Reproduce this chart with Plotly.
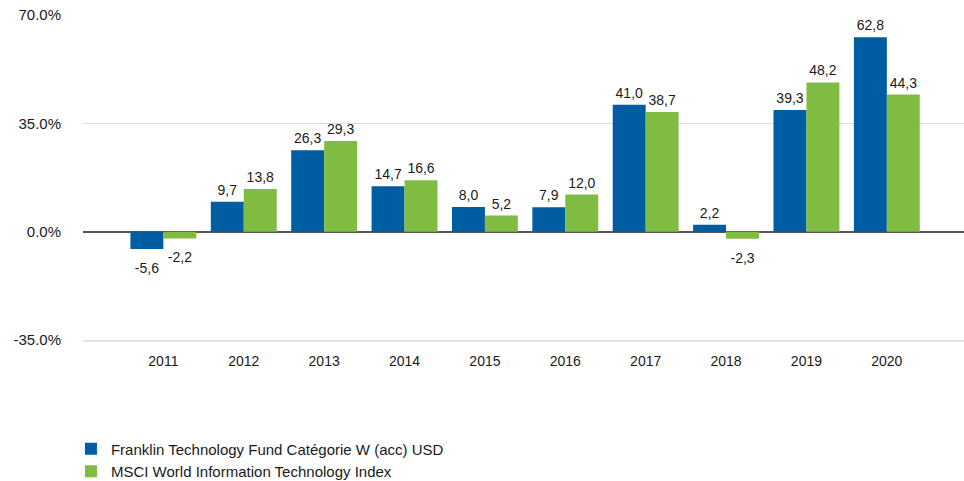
import plotly.graph_objects as go

years = ["2011", "2012", "2013", "2014", "2015", "2016", "2017", "2018", "2019", "2020"]
fund = [-5.6, 9.7, 26.3, 14.7, 8.0, 7.9, 41.0, 2.2, 39.3, 62.8]
index = [-2.2, 13.8, 29.3, 16.6, 5.2, 12.0, 38.7, -2.3, 48.2, 44.3]
fund_name = "Franklin Technology Fund Catégorie W (acc) USD"
index_name = "MSCI World Information Technology Index"
ytick_vals = [-35, 0, 35, 70]

FONT = "Liberation Sans, Arial, sans-serif"
BLUE = "#005DA2"
GREEN = "#80BC41"
TXT = "#1a1a1a"


def fmt(v):
    return f"{v:.1f}".replace(".", ",")


fig = go.Figure()
for name, vals, col in [(fund_name, fund, BLUE), (index_name, index, GREEN)]:
    fig.add_trace(go.Bar(
        x=years, y=vals, name=name, marker=dict(color=col, line=dict(width=0)),
        hoverinfo="x+y",
    ))
for vals in (fund, index):
    fig.add_trace(go.Scatter(
        x=years, y=vals, mode="markers+text",
        marker=dict(size=[4 if v >= 0 else 20 for v in vals],
                    color="rgba(0,0,0,0)", opacity=0, line=dict(width=0)),
        text=[fmt(v) for v in vals],
        textposition=["top center" if v >= 0 else "bottom center" for v in vals],
        textfont=dict(family=FONT, size=14, color=TXT),
        showlegend=False, hoverinfo="skip", cliponaxis=False,
    ))

fig.update_layout(
    width=964, height=481,
    margin=dict(l=83, r=0, t=15, b=141, autoexpand=False),
    paper_bgcolor="white", plot_bgcolor="white",
    barmode="group", bargap=0.18, bargroupgap=0,
    scattermode="group", scattergap=0.18,
    font=dict(family=FONT, size=15, color=TXT),
    showlegend=True,
    hovermode=False,
    legend=dict(
        orientation="v", xref="container", yref="container",
        x=0.0736, xanchor="left", y=0.101, yanchor="top",
        font=dict(family=FONT, size=15, color=TXT),
        itemclick=False, tracegroupgap=0, bgcolor="rgba(0,0,0,0)",
    ),
)
fig.update_xaxes(
    type="category", range=[-1, 9.96], automargin=False,
    showgrid=False, showline=True, linecolor="#e3e3e3", linewidth=2,
    ticks="outside", ticklen=7, tickcolor="rgba(0,0,0,0)",
    tickfont=dict(family=FONT, size=14, color=TXT),
)
fig.update_yaxes(
    range=[-35, 70], tickvals=ytick_vals,
    ticktext=[f"{v:.1f}%" for v in ytick_vals], automargin=False,
    showgrid=True, gridcolor="#dcdcdc", gridwidth=1,
    zeroline=True, zerolinecolor="#555555", zerolinewidth=1.5,
    ticks="outside", ticklen=18, tickcolor="rgba(0,0,0,0)",
    tickfont=dict(family=FONT, size=15, color=TXT),
)

fig.write_html(
    "out.html",
    config={"displayModeBar": False},
    post_script="document.body.style.margin='0px';document.body.style.overflow='hidden';",
)
